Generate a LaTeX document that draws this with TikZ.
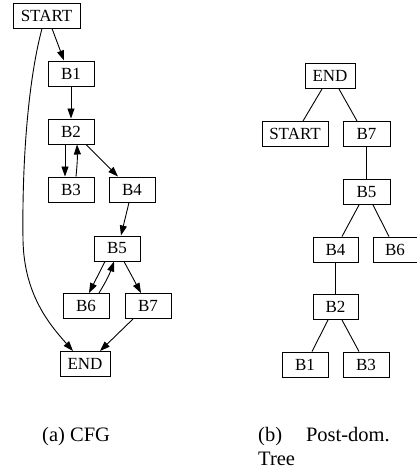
\documentclass[tikz,border=0pt]{standalone}
\usepackage{fontspec}
\setmainfont{Liberation Serif}
\usetikzlibrary{arrows.meta}

\tikzset{
  blk/.style={draw, line width=1pt, rectangle, inner sep=0pt,
    minimum height=25pt, minimum width=46pt,
    font=\fontsize{17}{18}\selectfont},
  flow/.style={line width=0.9pt, -{Triangle[length=10pt,width=7pt]}},
  tree/.style={line width=0.9pt},
  capt/.style={anchor=base west, inner sep=0pt, align=left,
    font=\fontsize{20.5}{24}\selectfont}
}

\begin{document}
\begin{tikzpicture}[x=1pt, y=-1pt]
\useasboundingbox (0,0) rectangle (417,471);

% ---- control flow graph ----
\node[blk, minimum width=67pt] (start) at (46.5,15.5) {START};
\node[blk] (b1) at (71,73.5)   {B1};
\node[blk] (b2) at (71,131.5)  {B2};
\node[blk] (b3) at (71,189.5)  {B3};
\node[blk] (b4) at (132,189.5) {B4};
\node[blk] (b5) at (117,248.5) {B5};
\node[blk] (b6) at (86,306)    {B6};
\node[blk] (b7) at (148,306)   {B7};
\node[blk, minimum width=50pt] (end) at (85,364) {END};

\draw[flow] ([xshift=5.5pt]start.south) -- ([xshift=-7pt]b1.north);
\draw[flow] (b1) -- (b2);
\draw[flow] ([xshift=-6pt]b2.south) -- ([xshift=-6pt]b3.north);
\draw[flow] ([xshift=5pt]b3.north) to[bend right=4] ([xshift=6pt]b2.south);
\draw[flow] ([xshift=15pt]b2.south) -- ([xshift=-14pt]b4.north);
\draw[flow] ([xshift=-3pt]b4.south) -- ([xshift=4pt]b5.north);
\draw[flow] ([xshift=-12pt]b5.south) -- ([xshift=3pt]b6.north);
\draw[flow] ([xshift=13pt]b6.north) to[bend right=6] ([xshift=-3pt]b5.south);
\draw[flow] ([xshift=7pt]b5.south) -- ([xshift=-7pt]b7.north);
\draw[flow] ([xshift=-15pt]b7.south) -- ([xshift=15pt]end.north);
\draw[flow] ([xshift=-4.5pt]start.south)
  .. controls (27,85) and (22,170) .. (23,240)
  .. controls (24,295) and (50,325) .. ([xshift=-12pt]end.north);

% ---- post-dominator tree ----
\node[blk, minimum width=50pt] (tend) at (330,76) {END};
\node[blk, minimum width=66pt] (tstart) at (295,134) {START};
\node[blk, minimum width=47pt] (tb7) at (366.5,134) {B7};
\node[blk, minimum width=47pt] (tb5) at (366.5,192) {B5};
\node[blk, minimum width=45pt] (tb4) at (335.5,249.5) {B4};
\node[blk, minimum width=44pt] (tb6) at (395,249.5) {B6};
\node[blk, minimum width=45pt] (tb2) at (335.5,307) {B2};
\node[blk] (tb1) at (305,364.5) {B1};
\node[blk] (tb3) at (366,364.5) {B3};

\draw[tree] ([xshift=-8pt]tend.south) -- ([xshift=8pt]tstart.north);
\draw[tree] ([xshift=9pt]tend.south) -- ([xshift=-9.5pt]tb7.north);
\draw[tree] (tb7) -- (tb5);
\draw[tree] ([xshift=-7.5pt]tb5.south) -- ([xshift=6.5pt]tb4.north);
\draw[tree] ([xshift=6.5pt]tb5.south) -- ([xshift=-6pt]tb6.north);
\draw[tree] (tb4) -- (tb2);
\draw[tree] ([xshift=-7.5pt]tb2.south) -- ([xshift=7pt]tb1.north);
\draw[tree] ([xshift=6.5pt]tb2.south) -- ([xshift=-7pt]tb3.north);

% ---- captions (base anchor of a two-line node is its last line) ----
\node[capt] (capa) at (42,441) {(a) CFG};
\node[capt] (capb) at (258,465) {(b)\hspace{24pt}Post-dom.\\Tree};
\end{tikzpicture}
\end{document}
